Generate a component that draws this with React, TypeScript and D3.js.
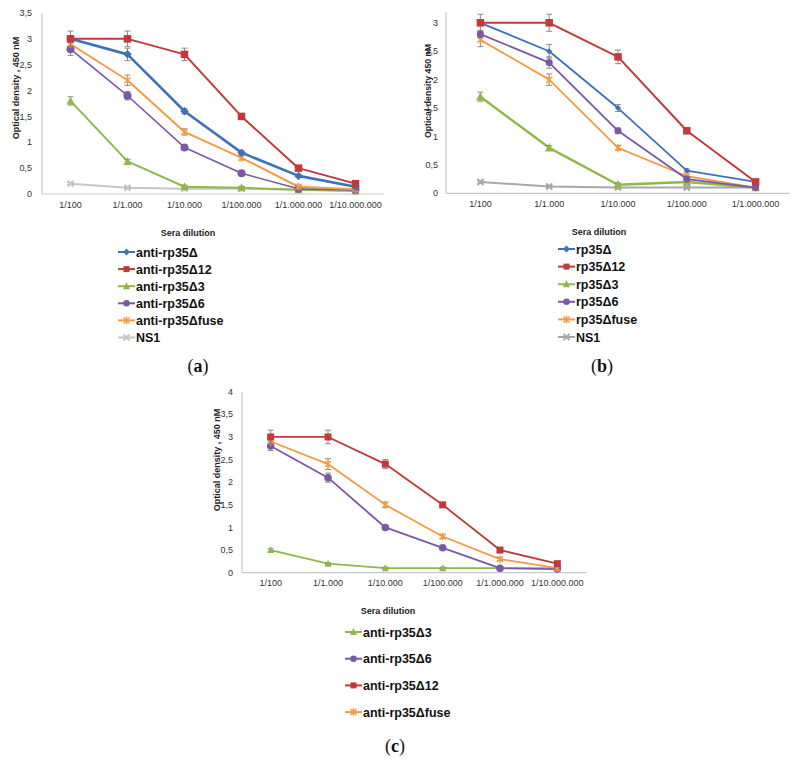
import React from "react";
import * as d3 from "d3";

// ---------- DATA ----------
const catsA = ["1/100", "1/1.000", "1/10.000", "1/100.000", "1/1.000.000", "1/10.000.000"];
const catsB = ["1/100", "1/1.000", "1/10.000", "1/100.000", "1/1.000.000"];
const catsC = ["1/100", "1/1.000", "1/10.000", "1/100.000", "1/1.000.000", "1/10.000.000"];

const ticksA = [0, 0.5, 1, 1.5, 2, 2.5, 3, 3.5];
const ticksB = [0, 0.5, 1, 1.5, 2, 2.5, 3];
const ticksC = [0, 0.5, 1, 1.5, 2, 2.5, 3, 3.5, 4];

// Panel (a)
const aDelta = [3.0, 2.7, 1.6, 0.8, 0.35, 0.14];
const aDelta12 = [3.0, 3.0, 2.7, 1.5, 0.5, 0.2];
const aDelta3 = [1.8, 0.63, 0.14, 0.12, 0.08, 0.06];
const aDelta6 = [2.8, 1.9, 0.9, 0.4, 0.1, 0.08];
const aFuse = [2.9, 2.2, 1.2, 0.7, 0.14, 0.09];
const aNS1 = [0.2, 0.12, 0.1, 0.1, 0.08, 0.08];
const aDeltaErr = [0.05, 0.12, 0.05, 0.04, 0.03, 0.02];
const aDelta12Err = [0.15, 0.15, 0.12, 0.05, 0.04, 0.03];
const aDelta3Err = [0.08, 0.04, 0.03, 0.02, 0.02, 0.02];
const aDelta6Err = [0.12, 0.08, 0.04, 0.03, 0.02, 0.02];
const aFuseErr = [0.06, 0.1, 0.06, 0.04, 0.03, 0.02];
const aNS1Err = [0.02, 0.02, 0.02, 0.02, 0.02, 0.02];

// Panel (b)
const bDelta = [3.0, 2.5, 1.5, 0.4, 0.2];
const bDelta12 = [3.0, 3.0, 2.4, 1.1, 0.2];
const bDelta3 = [1.7, 0.8, 0.15, 0.2, 0.1];
const bDelta6 = [2.8, 2.3, 1.1, 0.25, 0.1];
const bFuse = [2.7, 2.0, 0.8, 0.3, 0.1];
const bNS1 = [0.2, 0.12, 0.1, 0.1, 0.1];
const bDeltaErr = [0.05, 0.12, 0.06, 0.03, 0.02];
const bDelta12Err = [0.15, 0.15, 0.12, 0.04, 0.03];
const bDelta3Err = [0.08, 0.04, 0.03, 0.02, 0.02];
const bDelta6Err = [0.06, 0.1, 0.05, 0.03, 0.02];
const bFuseErr = [0.12, 0.1, 0.04, 0.03, 0.02];
const bNS1Err = [0.02, 0.02, 0.02, 0.02, 0.02];

// Panel (c)
const cDelta3 = [0.5, 0.2, 0.1, 0.1, 0.1, 0.1];
const cDelta6 = [2.8, 2.1, 1.0, 0.55, 0.1, 0.08];
const cDelta12 = [3.0, 3.0, 2.4, 1.5, 0.5, 0.2];
const cFuse = [2.9, 2.4, 1.5, 0.8, 0.3, 0.1];
const cDelta3Err = [0.03, 0.02, 0.02, 0.02, 0.02, 0.02];
const cDelta6Err = [0.1, 0.1, 0.04, 0.03, 0.02, 0.02];
const cDelta12Err = [0.15, 0.15, 0.1, 0.05, 0.04, 0.03];
const cFuseErr = [0.06, 0.12, 0.06, 0.04, 0.03, 0.02];

// ---------- STYLE ----------
const BLUE = "#3d72b8";
const RED = "#c0393b";
const GREEN = "#8fb84a";
const PURPLE = "#7b58a6";
const ORANGE = "#f59a45";
const GRAY_A = "#c6c6c6";
const GRAY_B = "#a8a8a8";
const AXIS = "#c8c8c8";
const SANS = "'Liberation Sans', Arial, sans-serif";
const SERIF = "'Liberation Serif', 'DejaVu Serif', serif";

type Marker = "diamond" | "square" | "triangle" | "circle" | "star" | "x";

interface Series {
  name: string;
  color: string;
  marker: Marker;
  values: number[];
  errors: number[];
  width: number;
  size: number;
}

function MarkerShape({ type, x, y, size, color }: { type: Marker; x: number; y: number; size: number; color: string }) {
  const s = size / 2;
  switch (type) {
    case "diamond":
      return <path d={`M${x},${y - s - 0.5}L${x + s + 0.5},${y}L${x},${y + s + 0.5}L${x - s - 0.5},${y}Z`} fill={color} />;
    case "square":
      return <rect x={x - s} y={y - s} width={size} height={size} fill={color} />;
    case "triangle":
      return <path d={`M${x},${y - s - 1}L${x + s + 0.5},${y + s}L${x - s - 0.5},${y + s}Z`} fill={color} />;
    case "circle":
      return <circle cx={x} cy={y} r={s + 0.3} fill={color} />;
    case "star":
      return (
        <g stroke={color} strokeWidth={1.4}>
          <line x1={x - s} y1={y - s} x2={x + s} y2={y + s} />
          <line x1={x - s} y1={y + s} x2={x + s} y2={y - s} />
          <line x1={x} y1={y - s - 1} x2={x} y2={y + s + 1} />
        </g>
      );
    case "x":
      return (
        <g stroke={color} strokeWidth={2}>
          <line x1={x - s} y1={y - s} x2={x + s} y2={y + s} />
          <line x1={x - s} y1={y + s} x2={x + s} y2={y - s} />
        </g>
      );
  }
}

interface PanelCfg {
  left: number;
  right: number;
  top: number;
  bottom: number;
  cats: string[];
  yMax: number;
  ticks: number[];
  tickGap: number;
  series: Series[];
  yTitle: string;
  yTitleX: number;
  yTitleY: number;
  yTitleSize: number;
  xTickY: number;
  seraX: number;
  seraY: number;
  legX: number;
  legY: number;
  legDy: number;
  legOrder: number[];
  label: string;
  labelX: number;
  labelY: number;
}

function Panel({ cfg }: { cfg: PanelCfg }) {
  const x = d3.scaleBand<string>().domain(cfg.cats).range([cfg.left, cfg.right]);
  const cx = (c: string) => (x(c) as number) + x.bandwidth() / 2;
  const y = d3.scaleLinear().domain([0, cfg.yMax]).range([cfg.bottom, cfg.top]);
  const line = d3
    .line<number>()
    .x((_, i) => cx(cfg.cats[i]))
    .y((v) => y(v));
  const fmt = (v: number) => String(v).replace(".", ",");
  return (
    <g>
      {/* axes */}
      <line x1={cfg.left} y1={cfg.top} x2={cfg.left} y2={cfg.bottom} stroke={AXIS} strokeWidth={1.2} />
      <line x1={cfg.left} y1={cfg.bottom} x2={cfg.right} y2={cfg.bottom} stroke={AXIS} strokeWidth={1.2} />
      {cfg.ticks.map((t) => (
        <text key={t} x={cfg.left - cfg.tickGap} y={y(t)} dy="0.35em" textAnchor="end" fontFamily={SANS} fontSize={9} fill="#333">
          {fmt(t)}
        </text>
      ))}
      {cfg.cats.map((c) => (
        <text key={c} x={cx(c)} y={cfg.xTickY} textAnchor="middle" fontFamily={SANS} fontSize={9} fill="#333">
          {c}
        </text>
      ))}
      <text
        transform={`translate(${cfg.yTitleX},${cfg.yTitleY}) rotate(-90)`}
        textAnchor="middle"
        fontFamily={SANS}
        fontSize={cfg.yTitleSize}
        fontWeight="bold"
        fill="#222"
      >
        {cfg.yTitle}
      </text>
      {/* series */}
      {cfg.series.map((s) => (
        <g key={s.name}>
          <path d={line(s.values) as string} fill="none" stroke={s.color} strokeWidth={s.width} strokeLinejoin="round" />
          {s.values.map((v, i) => {
            const e = s.errors[i];
            const px = cx(cfg.cats[i]);
            return (
              <g key={i} stroke="#707070" strokeWidth={0.8}>
                <line x1={px} y1={y(v + e)} x2={px} y2={y(v - e)} />
                <line x1={px - 3} y1={y(v + e)} x2={px + 3} y2={y(v + e)} />
                <line x1={px - 3} y1={y(v - e)} x2={px + 3} y2={y(v - e)} />
              </g>
            );
          })}
          {s.values.map((v, i) => (
            <MarkerShape key={"m" + i} type={s.marker} x={cx(cfg.cats[i])} y={y(v)} size={s.size} color={s.color} />
          ))}
        </g>
      ))}
      {/* x title / legend */}
      <text x={cfg.seraX} y={cfg.seraY} dy="0.35em" textAnchor="middle" fontFamily={SANS} fontSize={9} fontWeight="bold" fill="#222">
        Sera dilution
      </text>
      {cfg.legOrder.map((idx, k) => {
        const s = cfg.series[idx];
        const ly = cfg.legY + k * cfg.legDy;
        return (
          <g key={"l" + idx}>
            <line x1={cfg.legX - 17} y1={ly} x2={cfg.legX} y2={ly} stroke={s.color} strokeWidth={2} />
            <MarkerShape type={s.marker} x={cfg.legX - 8.5} y={ly} size={6} color={s.color} />
            <text x={cfg.legX + 1} y={ly} dy="0.36em" fontFamily={SANS} fontSize={12.5} fontWeight="bold" fill="#111">
              {s.name}
            </text>
          </g>
        );
      })}
      <text x={cfg.labelX} y={cfg.labelY} dy="0.35em" textAnchor="middle" fontFamily={SERIF} fontSize={18} fill="#111">
        (<tspan fontWeight="bold">{cfg.label}</tspan>)
      </text>
    </g>
  );
}

const seriesA: Series[] = [
  { name: "anti-rp35Δ", color: BLUE, marker: "diamond", values: aDelta, errors: aDeltaErr, width: 2.6, size: 7.5 },
  { name: "anti-rp35Δ12", color: RED, marker: "square", values: aDelta12, errors: aDelta12Err, width: 2, size: 7.5 },
  { name: "anti-rp35Δ3", color: GREEN, marker: "triangle", values: aDelta3, errors: aDelta3Err, width: 2, size: 7 },
  { name: "anti-rp35Δ6", color: PURPLE, marker: "circle", values: aDelta6, errors: aDelta6Err, width: 1.6, size: 7.5 },
  { name: "anti-rp35Δfuse", color: ORANGE, marker: "star", values: aFuse, errors: aFuseErr, width: 2, size: 6 },
  { name: "NS1", color: GRAY_A, marker: "x", values: aNS1, errors: aNS1Err, width: 2, size: 6 },
];
const drawA = [5, 2, 3, 4, 0, 1];

const seriesB: Series[] = [
  { name: "rp35Δ", color: BLUE, marker: "diamond", values: bDelta, errors: bDeltaErr, width: 1.8, size: 5 },
  { name: "rp35Δ12", color: RED, marker: "square", values: bDelta12, errors: bDelta12Err, width: 2, size: 7.5 },
  { name: "rp35Δ3", color: GREEN, marker: "triangle", values: bDelta3, errors: bDelta3Err, width: 2.4, size: 7.5 },
  { name: "rp35Δ6", color: PURPLE, marker: "circle", values: bDelta6, errors: bDelta6Err, width: 1.8, size: 6.5 },
  { name: "rp35Δfuse", color: ORANGE, marker: "star", values: bFuse, errors: bFuseErr, width: 1.8, size: 6 },
  { name: "NS1", color: GRAY_B, marker: "x", values: bNS1, errors: bNS1Err, width: 2, size: 6 },
];

const seriesC: Series[] = [
  { name: "anti-rp35Δ3", color: GREEN, marker: "triangle", values: cDelta3, errors: cDelta3Err, width: 1.8, size: 6 },
  { name: "anti-rp35Δ6", color: PURPLE, marker: "circle", values: cDelta6, errors: cDelta6Err, width: 1.8, size: 7 },
  { name: "anti-rp35Δfuse", color: ORANGE, marker: "star", values: cFuse, errors: cFuseErr, width: 1.8, size: 6 },
  { name: "anti-rp35Δ12", color: RED, marker: "square", values: cDelta12, errors: cDelta12Err, width: 1.8, size: 7 },
];

const cfgA: PanelCfg = {
  left: 42, right: 384, top: 13, bottom: 194,
  cats: catsA, yMax: 3.5, ticks: ticksA, tickGap: 10,
  series: drawA.map((i) => seriesA[i]),
  yTitle: "Optical density , 450 nM", yTitleX: 19, yTitleY: 88, yTitleSize: 9,
  xTickY: 208, seraX: 188, seraY: 233,
  legX: 135, legY: 252, legDy: 17.1,
  legOrder: drawA.map((_, k) => drawA.indexOf(k)),
  label: "a", labelX: 198, labelY: 366,
};

const drawB = [5, 2, 4, 3, 0, 1];
const cfgB: PanelCfg = {
  left: 446, right: 790, top: 12, bottom: 193.3,
  cats: catsB, yMax: 3.19, ticks: ticksB, tickGap: 8,
  series: drawB.map((i) => seriesB[i]),
  yTitle: "Optical density 450 nM", yTitleX: 431, yTitleY: 91, yTitleSize: 8.7,
  xTickY: 207, seraX: 599, seraY: 232,
  legX: 575, legY: 249, legDy: 17.6,
  legOrder: drawB.map((_, k) => drawB.indexOf(k)),
  label: "b", labelX: 602, labelY: 366,
};

const cfgC: PanelCfg = {
  left: 242, right: 586, top: 391.7, bottom: 572.7,
  cats: catsC, yMax: 4, ticks: ticksC, tickGap: 9,
  series: seriesC,
  yTitle: "Optical density , 450 nM", yTitleX: 220, yTitleY: 460, yTitleSize: 9,
  xTickY: 586, seraX: 388, seraY: 611,
  legX: 362, legY: 632, legDy: 26.7,
  legOrder: [0, 1, 3, 2],
  label: "c", labelX: 395, labelY: 746,
};

export default function App() {
  return (
    <svg width={798} height={761} style={{ position: "absolute", left: 0, top: 0, background: "#fff" }}>
      <rect width={798} height={761} fill="#fff" />
      <Panel cfg={cfgA} />
      <Panel cfg={cfgB} />
      <Panel cfg={cfgC} />
    </svg>
  );
}
